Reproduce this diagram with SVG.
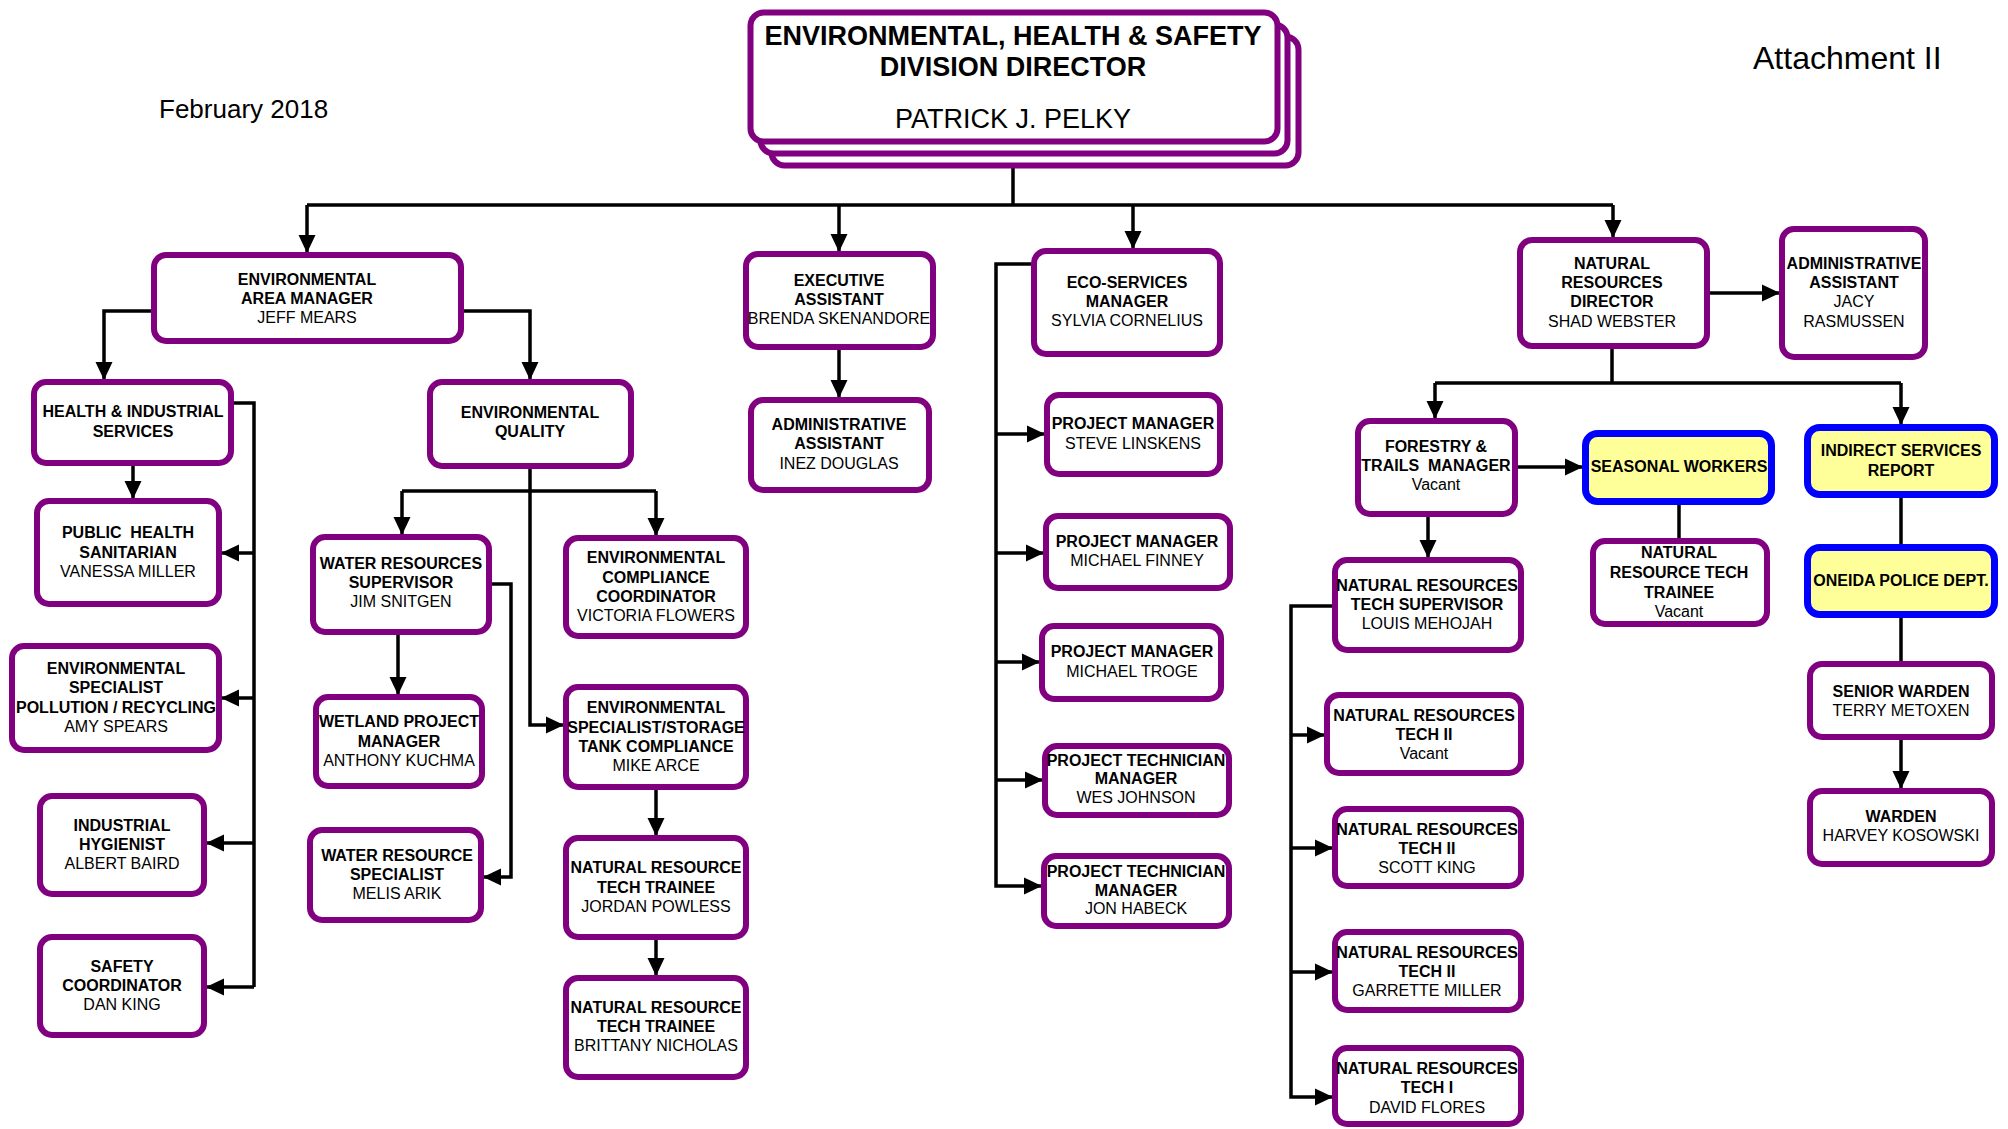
<svg xmlns="http://www.w3.org/2000/svg" width="2008" height="1129" viewBox="0 0 2008 1129">
<style>
text{font-family:"Liberation Sans",Arial,sans-serif;font-size:16px;fill:#000;text-anchor:middle}
.b{font-weight:bold}
.box{fill:#fff;stroke:#800080;stroke-width:6}
.hl{fill:#FFFF99;stroke:#0000FF;stroke-width:7}
.c{fill:none;stroke:#000;stroke-width:3.5}
.a{marker-end:url(#arr)}
</style>
<defs>
<marker id="arr" markerUnits="userSpaceOnUse" markerWidth="18" markerHeight="18" viewBox="0 0 18 18" refX="17" refY="9" orient="auto">
<path d="M0,0.5 L18,9 L0,17.5 z" fill="#000"/>
</marker>
</defs>
<rect width="2008" height="1129" fill="#fff"/>
<text x="159" y="118" style="font-size:26px;text-anchor:start">February 2018</text>
<text x="1753" y="69" style="font-size:32px;text-anchor:start">Attachment II</text>

<g id="connectors">
<path class="c" d="M1013,145 V205 M307,205 H1613"/>
<path class="c a" d="M307,205 V252"/>
<path class="c a" d="M839,205 V251"/>
<path class="c a" d="M1133,205 V248"/>
<path class="c a" d="M1613,205 V237"/>
<path class="c a" d="M151,311 H104 V379"/>
<path class="c a" d="M464,311 H530 V379"/>
<path class="c a" d="M133,466 V498"/>
<path class="c" d="M234,403 H254 V987"/>
<path class="c a" d="M254,553 H222"/>
<path class="c a" d="M254,698 H222"/>
<path class="c a" d="M254,843 H207"/>
<path class="c a" d="M254,987 H207"/>
<path class="c a" d="M530,469 V725 H563"/>
<path class="c" d="M402,491 H656"/>
<path class="c a" d="M402,491 V534"/>
<path class="c a" d="M656,491 V535"/>
<path class="c a" d="M398,635 V694"/>
<path class="c a" d="M492,584 H511 V877 H484"/>
<path class="c a" d="M656,790 V835"/>
<path class="c a" d="M656,940 V975"/>
<path class="c a" d="M839,350 V397"/>
<path class="c a" d="M1031,264 H996 V886 H1041"/>
<path class="c a" d="M996,434 H1044"/>
<path class="c a" d="M996,553 H1043"/>
<path class="c a" d="M996,662 H1039"/>
<path class="c a" d="M996,780 H1042"/>
<path class="c a" d="M1710,293 H1779"/>
<path class="c" d="M1612,349 V383 M1435,383 H1901"/>
<path class="c a" d="M1435,383 V418"/>
<path class="c a" d="M1901,383 V424"/>
<path class="c a" d="M1518,467 H1582"/>
<path class="c a" d="M1428,517 V557"/>
<path class="c" d="M1679,505 V538"/>
<path class="c" d="M1901,498 V544 M1901,618 V661"/>
<path class="c a" d="M1901,740 V788"/>
<path class="c a" d="M1332,606 H1291 V1097 H1332"/>
<path class="c a" d="M1291,735 H1324"/>
<path class="c a" d="M1291,848 H1332"/>
<path class="c a" d="M1291,972 H1332"/>
</g>

<g id="director">
<rect class="box" x="771.5" y="36.5" width="527" height="129" rx="13" stroke-width="7"/>
<rect class="box" x="760.5" y="24.5" width="527" height="129" rx="13" stroke-width="7"/>
<rect class="box" x="750.5" y="12.5" width="527" height="129" rx="13" stroke-width="7"/>
<text class="b" x="1013" y="45" style="font-size:27px">ENVIRONMENTAL, HEALTH &amp; SAFETY</text>
<text class="b" x="1013" y="76" style="font-size:27px">DIVISION DIRECTOR</text>
<text x="1013" y="128" style="font-size:27px">PATRICK J. PELKY</text>
</g>

<g id="env-area-manager"><rect class="box" x="154" y="255" width="307" height="86" rx="12"/>
<text class="b" x="307" y="285">ENVIRONMENTAL</text><text class="b" x="307" y="304">AREA MANAGER</text><text x="307" y="323">JEFF MEARS</text></g>

<g id="health-industrial"><rect class="box" x="34" y="382" width="197" height="81" rx="12"/>
<text class="b" x="133" y="417">HEALTH &amp; INDUSTRIAL</text><text class="b" x="133" y="437">SERVICES</text></g>

<g id="public-health"><rect class="box" x="37" y="501" width="182" height="103" rx="12"/>
<text class="b" x="128" y="538" xml:space="preserve">PUBLIC  HEALTH</text><text class="b" x="128" y="558">SANITARIAN</text><text x="128" y="577">VANESSA MILLER</text></g>

<g id="env-specialist-pollution"><rect class="box" x="12" y="646" width="207" height="104" rx="12"/>
<text class="b" x="116" y="674">ENVIRONMENTAL</text><text class="b" x="116" y="693">SPECIALIST</text><text class="b" x="116" y="713">POLLUTION / RECYCLING</text><text x="116" y="732">AMY SPEARS</text></g>

<g id="industrial-hygienist"><rect class="box" x="40" y="796" width="164" height="98" rx="12"/>
<text class="b" x="122" y="831">INDUSTRIAL</text><text class="b" x="122" y="850">HYGIENIST</text><text x="122" y="869">ALBERT BAIRD</text></g>

<g id="safety-coordinator"><rect class="box" x="40" y="937" width="164" height="98" rx="12"/>
<text class="b" x="122" y="972">SAFETY</text><text class="b" x="122" y="991">COORDINATOR</text><text x="122" y="1010">DAN KING</text></g>

<g id="env-quality"><rect class="box" x="430" y="382" width="201" height="84" rx="12"/>
<text class="b" x="530" y="418">ENVIRONMENTAL</text><text class="b" x="530" y="437">QUALITY</text></g>

<g id="water-res-supervisor"><rect class="box" x="313" y="537" width="176" height="95" rx="12"/>
<text class="b" x="401" y="569">WATER RESOURCES</text><text class="b" x="401" y="588">SUPERVISOR</text><text x="401" y="607">JIM SNITGEN</text></g>

<g id="wetland-pm"><rect class="box" x="316" y="697" width="166" height="89" rx="12"/>
<text class="b" x="399" y="727">WETLAND PROJECT</text><text class="b" x="399" y="747">MANAGER</text><text x="399" y="766">ANTHONY KUCHMA</text></g>

<g id="water-res-specialist"><rect class="box" x="310" y="830" width="171" height="90" rx="12"/>
<text class="b" x="397" y="861">WATER RESOURCE</text><text class="b" x="397" y="880">SPECIALIST</text><text x="397" y="899">MELIS ARIK</text></g>

<g id="env-compliance"><rect class="box" x="566" y="538" width="180" height="98" rx="12"/>
<text class="b" x="656" y="563">ENVIRONMENTAL</text><text class="b" x="656" y="583">COMPLIANCE</text><text class="b" x="656" y="602">COORDINATOR</text><text x="656" y="621">VICTORIA FLOWERS</text></g>

<g id="env-storage-tank"><rect class="box" x="566" y="687" width="180" height="100" rx="12"/>
<text class="b" x="656" y="713">ENVIRONMENTAL</text><text class="b" x="656" y="733">SPECIALIST/STORAGE</text><text class="b" x="656" y="752">TANK COMPLIANCE</text><text x="656" y="771">MIKE ARCE</text></g>

<g id="nr-trainee-powless"><rect class="box" x="566" y="838" width="180" height="99" rx="12"/>
<text class="b" x="656" y="873">NATURAL RESOURCE</text><text class="b" x="656" y="893">TECH TRAINEE</text><text x="656" y="912">JORDAN POWLESS</text></g>

<g id="nr-trainee-nicholas"><rect class="box" x="566" y="978" width="180" height="99" rx="12"/>
<text class="b" x="656" y="1013">NATURAL RESOURCE</text><text class="b" x="656" y="1032">TECH TRAINEE</text><text x="656" y="1051">BRITTANY NICHOLAS</text></g>

<g id="exec-assistant"><rect class="box" x="746" y="254" width="187" height="93" rx="12"/>
<text class="b" x="839" y="286">EXECUTIVE</text><text class="b" x="839" y="305">ASSISTANT</text><text x="839" y="324">BRENDA SKENANDORE</text></g>

<g id="admin-assistant-douglas"><rect class="box" x="751" y="400" width="178" height="90" rx="12"/>
<text class="b" x="839" y="430">ADMINISTRATIVE</text><text class="b" x="839" y="449">ASSISTANT</text><text x="839" y="469">INEZ DOUGLAS</text></g>

<g id="eco-services"><rect class="box" x="1034" y="251" width="186" height="103" rx="12"/>
<text class="b" x="1127" y="288">ECO-SERVICES</text><text class="b" x="1127" y="307">MANAGER</text><text x="1127" y="326">SYLVIA CORNELIUS</text></g>

<g id="pm-linskens"><rect class="box" x="1047" y="395" width="173" height="79" rx="12"/>
<text class="b" x="1133" y="429">PROJECT MANAGER</text><text x="1133" y="449">STEVE LINSKENS</text></g>

<g id="pm-finney"><rect class="box" x="1046" y="516" width="184" height="72" rx="12"/>
<text class="b" x="1137" y="547">PROJECT MANAGER</text><text x="1137" y="566">MICHAEL FINNEY</text></g>

<g id="pm-troge"><rect class="box" x="1042" y="626" width="179" height="73" rx="12"/>
<text class="b" x="1132" y="657">PROJECT MANAGER</text><text x="1132" y="677">MICHAEL TROGE</text></g>

<g id="ptm-johnson"><rect class="box" x="1045" y="746" width="184" height="69" rx="12"/>
<text class="b" x="1136" y="766">PROJECT TECHNICIAN</text><text class="b" x="1136" y="784">MANAGER</text><text x="1136" y="803">WES JOHNSON</text></g>

<g id="ptm-habeck"><rect class="box" x="1044" y="856" width="185" height="70" rx="12"/>
<text class="b" x="1136" y="877">PROJECT TECHNICIAN</text><text class="b" x="1136" y="896">MANAGER</text><text x="1136" y="914">JON HABECK</text></g>

<g id="nr-director"><rect class="box" x="1520" y="240" width="187" height="106" rx="12"/>
<text class="b" x="1612" y="269">NATURAL</text><text class="b" x="1612" y="288">RESOURCES</text><text class="b" x="1612" y="307">DIRECTOR</text><text x="1612" y="327">SHAD WEBSTER</text></g>

<g id="admin-assistant-rasmussen"><rect class="box" x="1782" y="229" width="143" height="128" rx="12"/>
<text class="b" x="1854" y="269">ADMINISTRATIVE</text><text class="b" x="1854" y="288">ASSISTANT</text><text x="1854" y="307">JACY</text><text x="1854" y="327">RASMUSSEN</text></g>

<g id="forestry-trails"><rect class="box" x="1358" y="421" width="157" height="93" rx="12"/>
<text class="b" x="1436" y="452">FORESTRY &amp;</text><text class="b" x="1436" y="471" xml:space="preserve">TRAILS  MANAGER</text><text x="1436" y="490">Vacant</text></g>

<g id="seasonal-workers"><rect class="hl" x="1585.5" y="433.5" width="186" height="68" rx="12"/>
<text class="b" x="1679" y="472">SEASONAL WORKERS</text></g>

<g id="nr-trainee-vacant"><rect class="box" x="1593" y="541" width="174" height="83" rx="12"/>
<text class="b" x="1679" y="558">NATURAL</text><text class="b" x="1679" y="578">RESOURCE TECH</text><text class="b" x="1679" y="598">TRAINEE</text><text x="1679" y="617">Vacant</text></g>

<g id="indirect-services"><rect class="hl" x="1807.5" y="427.5" width="187" height="67" rx="12"/>
<text class="b" x="1901" y="456">INDIRECT SERVICES</text><text class="b" x="1901" y="476">REPORT</text></g>

<g id="oneida-police"><rect class="hl" x="1807.5" y="547.5" width="187" height="67" rx="12"/>
<text class="b" x="1901" y="586">ONEIDA POLICE DEPT.</text></g>

<g id="senior-warden"><rect class="box" x="1810" y="664" width="182" height="73" rx="12"/>
<text class="b" x="1901" y="697">SENIOR WARDEN</text><text x="1901" y="716">TERRY METOXEN</text></g>

<g id="warden"><rect class="box" x="1810" y="791" width="182" height="73" rx="12"/>
<text class="b" x="1901" y="822">WARDEN</text><text x="1901" y="841">HARVEY KOSOWSKI</text></g>

<g id="nr-tech-supervisor"><rect class="box" x="1335" y="560" width="186" height="90" rx="12"/>
<text class="b" x="1427" y="591">NATURAL RESOURCES</text><text class="b" x="1427" y="610">TECH SUPERVISOR</text><text x="1427" y="629">LOUIS MEHOJAH</text></g>

<g id="nr-tech2-vacant"><rect class="box" x="1327" y="695" width="194" height="78" rx="12"/>
<text class="b" x="1424" y="721">NATURAL RESOURCES</text><text class="b" x="1424" y="740">TECH II</text><text x="1424" y="759">Vacant</text></g>

<g id="nr-tech2-king"><rect class="box" x="1335" y="809" width="186" height="77" rx="12"/>
<text class="b" x="1427" y="835">NATURAL RESOURCES</text><text class="b" x="1427" y="854">TECH II</text><text x="1427" y="873">SCOTT KING</text></g>

<g id="nr-tech2-miller"><rect class="box" x="1335" y="932" width="186" height="78" rx="12"/>
<text class="b" x="1427" y="958">NATURAL RESOURCES</text><text class="b" x="1427" y="977">TECH II</text><text x="1427" y="996">GARRETTE MILLER</text></g>

<g id="nr-tech1-flores"><rect class="box" x="1335" y="1048" width="186" height="76" rx="12"/>
<text class="b" x="1427" y="1074">NATURAL RESOURCES</text><text class="b" x="1427" y="1093">TECH I</text><text x="1427" y="1113">DAVID FLORES</text></g>
</svg>
